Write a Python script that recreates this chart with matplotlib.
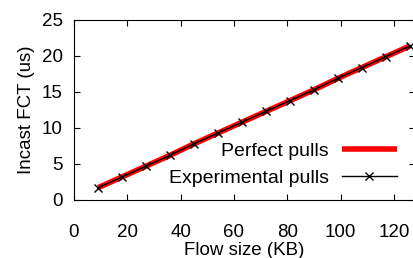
import matplotlib
matplotlib.use("Agg")
import matplotlib.pyplot as plt

plt.rcParams['font.family'] = ['Liberation Sans', 'DejaVu Sans']
plt.rcParams['font.size'] = 13.5

flow_kb = [9, 18, 27, 36, 45, 54, 63, 72, 81, 90, 99, 108, 117, 126]
perfect_us = [1.7, 3.2, 4.7, 6.2, 7.8, 9.3, 10.8, 12.3, 13.8, 15.3, 16.9, 18.4, 19.9, 21.4]
experimental_us = [1.7, 3.2, 4.7, 6.2, 7.8, 9.3, 10.8, 12.3, 13.8, 15.3, 16.9, 18.4, 19.9, 21.4]

fig = plt.figure(figsize=(4.14, 2.58), dpi=100)
ax = fig.add_axes([74 / 414, 58 / 258, 341.3 / 414, 180 / 258])

ax.plot(flow_kb, perfect_us, color='#ff0000', linewidth=4, label="Perfect pulls",
        solid_capstyle='butt')
ax.plot(flow_kb, experimental_us, color='black', linewidth=1, marker='x',
        markersize=6, markeredgewidth=1, label="Experimental pulls")

ax.set_xlim(0, 128)
ax.set_ylim(0, 25)
ax.set_xticks(range(0, 121, 20))
ax.set_yticks(range(0, 26, 5))
ax.tick_params(direction='in', top=True, right=True, length=4)
ax.tick_params(axis='x', pad=17)
ax.tick_params(axis='y', pad=8)
ax.set_xlabel("Flow size (KB)", labelpad=1)
ax.set_ylabel("Incast FCT (us)", labelpad=5)

ax.legend(loc='lower right', bbox_to_anchor=(0.9455, 0.071), frameon=False,
          markerfirst=False, handlelength=2.8, handletextpad=0.7,
          labelspacing=0.5, borderaxespad=0, borderpad=0,
          prop={'size': 14})

fig.savefig("out.png", dpi=100)
